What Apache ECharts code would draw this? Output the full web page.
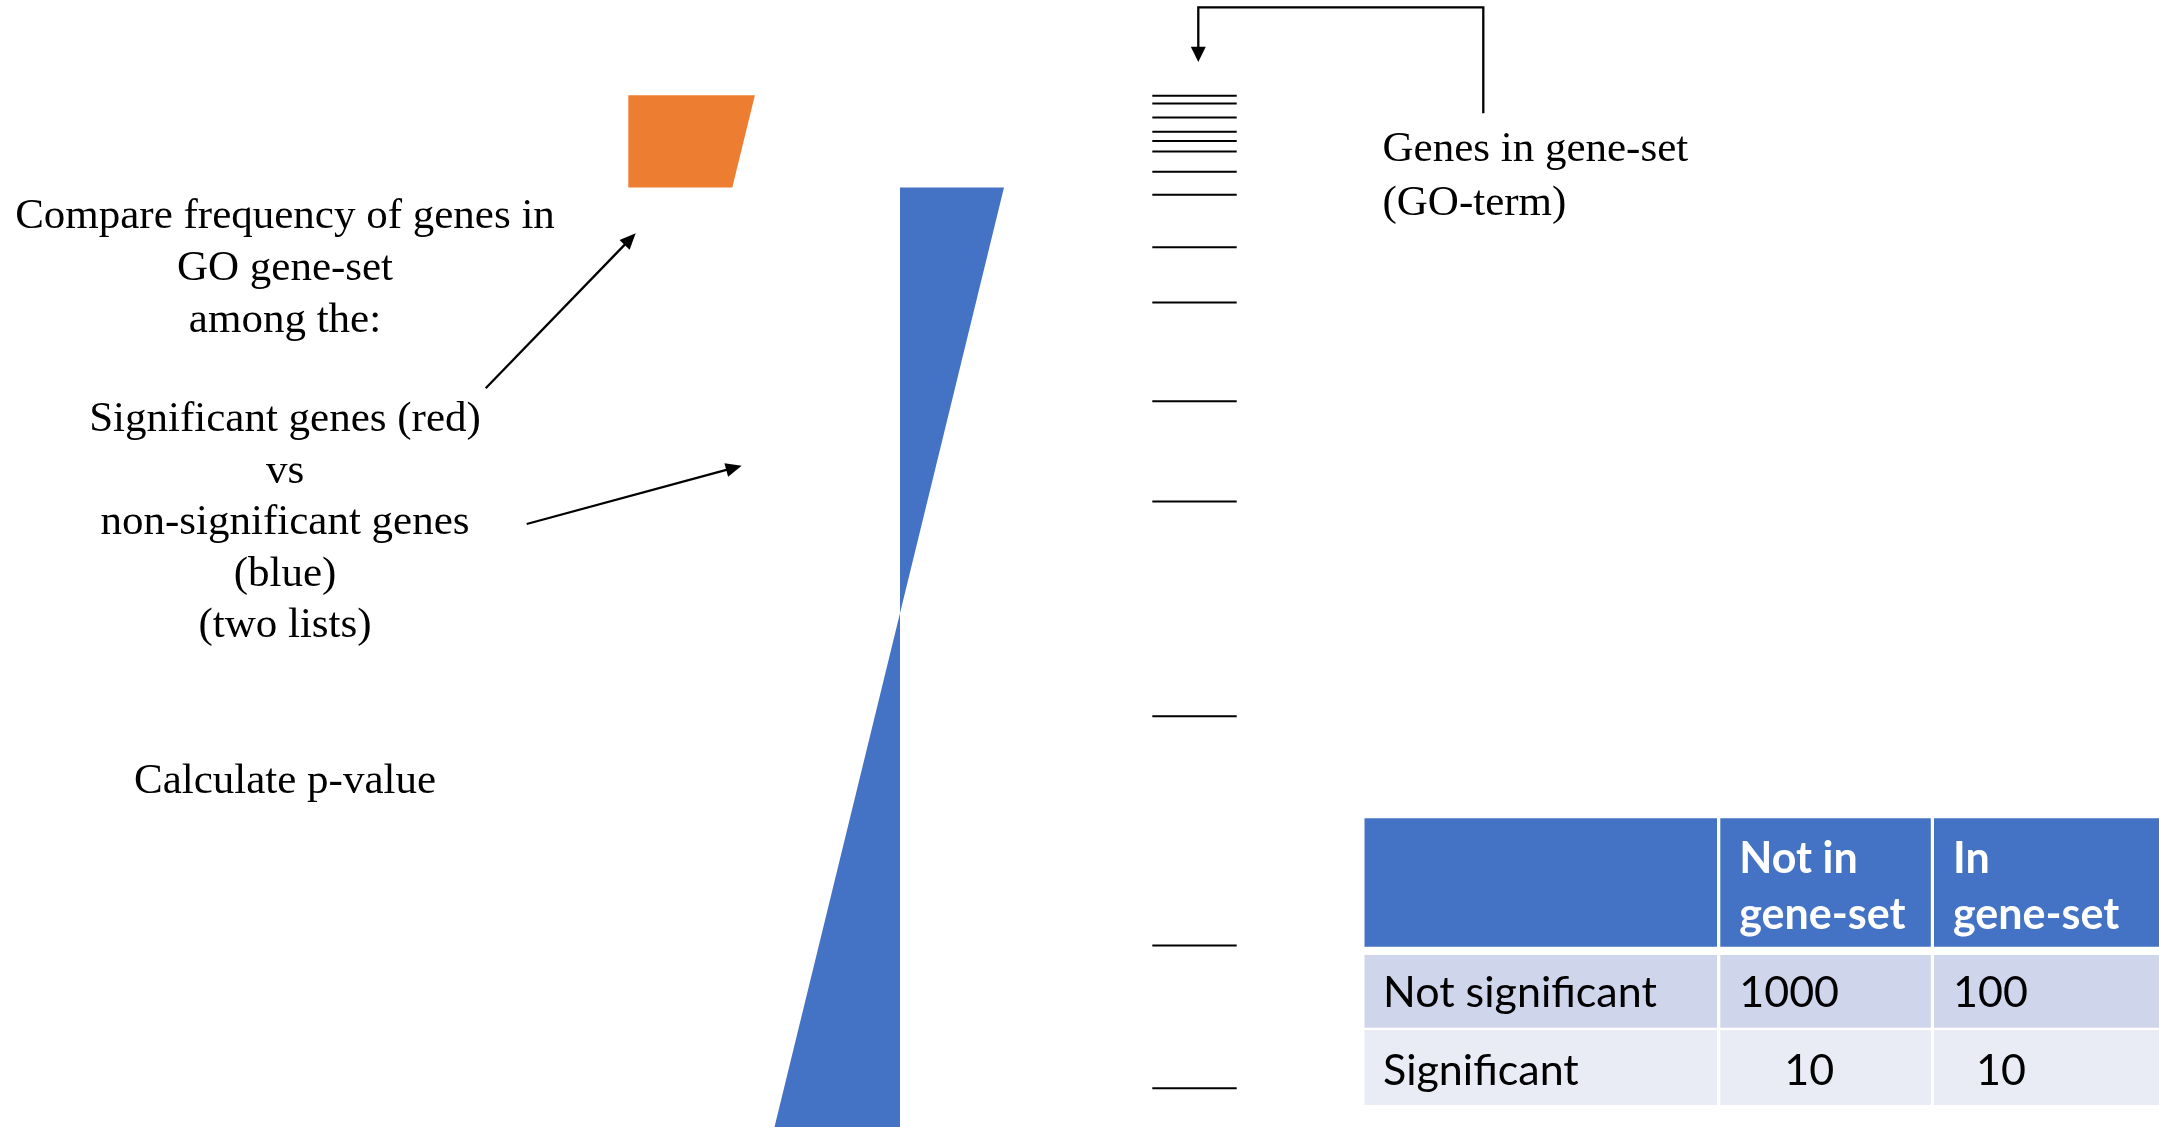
<!DOCTYPE html>
<html>
<head>
<meta charset="utf-8">
<script src="https://cdn.jsdelivr.net/npm/echarts@6/dist/echarts.min.js"></script>
<style>
html,body{margin:0;padding:0;background:#fff;}
#chart{width:2159px;height:1127px;}
</style>
</head>
<body>
<div id="chart"></div>
<script>
// ---------------- DATA ----------------
// Ranked gene list: rank boundaries (top, significance cut-off, bottom)
const listRanks = [0, 100, 1120];
// Ranking statistic at those ranks (linear ranked list)
const listScores = [12.66, 10.4, -12.55];
// Ranks of the genes that belong to the gene-set (GO-term)
const geneSetRanks = [0.5, 9, 24, 39.5, 49.5, 61, 83, 108, 165, 225, 332, 441, 674, 923, 1078];

// Annotation text
const leftTextLines = ['Compare frequency of genes in', 'GO gene-set', 'among the:',
  'Significant genes (red)', 'vs', 'non-significant genes', '(blue)', '(two lists)'];
const pValueText = 'Calculate p-value';
const geneSetLabel = ['Genes in gene-set', '(GO-term)'];

// Contingency table
const tableHeader = ['', 'Not in\ngene-set', 'In\ngene-set'];
const tableRowLabels = ['Not significant', 'Significant'];
const notInGeneSet = [1000, 10];
const inGeneSet = [100, 10];

// ---------------- LAYOUT ----------------
const W = 2159, H = 1127;
const listTop = 95.3, listHeight = 1031.7;
const serif = '"Liberation Serif", "Times New Roman", serif';
const sans = 'Lato, "Noto Sans", sans-serif';
const ORANGE = '#ED7D31', BLUE = '#4472C4';

const chart = echarts.init(document.getElementById('chart'), null, {renderer: 'canvas'});

function yAx(i) {
  return {type: 'value', gridIndex: i, min: 0, max: listRanks[2], inverse: true, show: false};
}
function xAx(i, mn, mx) {
  return {type: 'value', gridIndex: i, min: mn, max: mx, show: false};
}

function shapeItem(params, api) {
  const s0 = api.value(0), r0 = api.value(1), s1 = api.value(2), r1 = api.value(3);
  const pts = [api.coord([0, r0]), api.coord([s0, r0]), api.coord([s1, r1]), api.coord([0, r1])];
  return {type: 'polygon', shape: {points: pts}, style: {fill: api.visual('color')}};
}

function tickItem(params, api) {
  const r = api.value(0);
  const a = api.coord([0, r]), b = api.coord([1, r]);
  return {type: 'line', shape: {x1: a[0], y1: a[1], x2: b[0], y2: b[1]},
    style: {stroke: '#000', lineWidth: 2}};
}

// arrow helper
function arrow(x1, y1, x2, y2, len, hw) {
  const dx = x2 - x1, dy = y2 - y1, d = Math.hypot(dx, dy);
  const ux = dx / d, uy = dy / d;
  const bx = x2 - ux * len, by = y2 - uy * len;
  return [
    {type: 'line', silent: true, shape: {x1: x1, y1: y1, x2: bx + ux * 2, y2: by + uy * 2},
      style: {stroke: '#000', lineWidth: 2.3}},
    {type: 'polygon', silent: true, shape: {points: [[x2, y2], [bx - uy * hw, by + ux * hw], [bx + uy * hw, by - ux * hw]]},
      style: {fill: '#000'}}
  ];
}

function txt(t, x, y, font, align, fill) {
  return {type: 'text', silent: true, style: {text: t, x: x, y: y, font: font,
    textAlign: align, align: align, textVerticalAlign: 'middle', verticalAlign: 'middle', fill: fill || '#000'}};
}

const graphics = [];
const dy = 2.5;
// left text block
const leftYs = [214.5, 266.3, 318, 417.5, 469, 520.5, 572, 623];
leftTextLines.forEach((t, i) => graphics.push(txt(t, 285, leftYs[i] + dy, '43px ' + serif, 'center')));
graphics.push(txt(pValueText, 285, 779 + dy, '43px ' + serif, 'center'));
// right label
graphics.push(txt(geneSetLabel[0], 1382.5, 147.7 + dy, '43px ' + serif, 'left'));
graphics.push(txt(geneSetLabel[1], 1382.5, 201 + dy, '43px ' + serif, 'left'));
// arrows
arrow(485.7, 388.3, 635.7, 233.3, 16, 7).forEach(g => graphics.push(g));
arrow(526.7, 524, 741.7, 465.7, 16, 7).forEach(g => graphics.push(g));
// connector arrow to gene-set ticks
graphics.push({type: 'polyline', silent: true,
  shape: {points: [[1483.3, 113.3], [1483.3, 7.3], [1198.3, 7.3], [1198.3, 48]]},
  style: {stroke: '#000', lineWidth: 2.3, fill: null}});
graphics.push({type: 'polygon', silent: true,
  shape: {points: [[1190.8, 46.7], [1205.8, 46.7], [1198.3, 62]]}, style: {fill: '#000'}});

// table
const colX = [1364.5, 1720.3, 1934];
const colW = [352.5, 210.5, 240];
const rowY = [818.3, 955, 1030];
const rowH = [128.4, 72.7, 75];
const rowFill = [BLUE, '#CFD5EA', '#E9EBF5'];
for (let r = 0; r < 3; r++) {
  for (let c = 0; c < 3; c++) {
    graphics.push({type: 'rect', silent: true, shape: {x: colX[c], y: rowY[r], width: colW[c], height: rowH[r]},
      style: {fill: rowFill[r]}});
  }
}
const bodyFont = '43px ' + sans;
const headFont = 'bold 43px ' + sans;
// header text
[1, 2].forEach(c => {
  const lines = tableHeader[c].split('\n');
  graphics.push(txt(lines[0], colX[c] + 19, 857.5 + 2, headFont, 'left', '#fff'));
  graphics.push(txt(lines[1], colX[c] + 19, 913.5 + 2, headFont, 'left', '#fff'));
});
const rowMid = [991 + dy, 1068.5 + dy];
const valIndent = [[19, 19], [64, 42]];
tableRowLabels.forEach((lab, r) => {
  graphics.push(txt(lab, colX[0] + 18.5, rowMid[r], bodyFont, 'left'));
  graphics.push(txt(String(notInGeneSet[r]), colX[1] + valIndent[r][0], rowMid[r], bodyFont, 'left'));
  graphics.push(txt(String(inGeneSet[r]), colX[2] + valIndent[r][1], rowMid[r], bodyFont, 'left'));
});

const option = {
  animation: false,
  backgroundColor: '#fff',
  grid: [
    {left: 428.3, top: listTop, width: 400, height: listHeight},
    {left: 700, top: listTop, width: 400, height: listHeight},
    {left: 1152.3, top: listTop, width: 84.4, height: listHeight}
  ],
  xAxis: [xAx(0, -20, 20), xAx(1, -20, 20), xAx(2, 0, 1)],
  yAxis: [yAx(0), yAx(1), yAx(2)],
  series: [
    {type: 'custom', name: 'Significant genes', xAxisIndex: 0, yAxisIndex: 0, itemStyle: {color: ORANGE},
      renderItem: shapeItem, encode: {x: [0, 2], y: [1, 3]},
      data: [[listScores[0], listRanks[0], listScores[1], listRanks[1]]]},
    {type: 'custom', name: 'Non-significant genes', xAxisIndex: 1, yAxisIndex: 1, itemStyle: {color: BLUE},
      renderItem: shapeItem, encode: {x: [0, 2], y: [1, 3]},
      data: [[listScores[1], listRanks[1], listScores[2], listRanks[2]]]},
    {type: 'custom', name: 'Genes in gene-set', xAxisIndex: 2, yAxisIndex: 2,
      renderItem: tickItem, encode: {y: 0},
      data: geneSetRanks.map(r => [r])}
  ],
  graphic: graphics
};
chart.setOption(option);
</script>
</body>
</html>
